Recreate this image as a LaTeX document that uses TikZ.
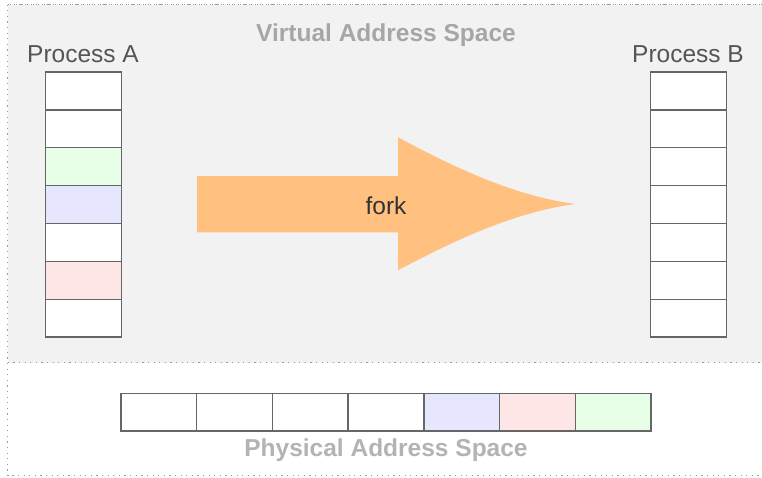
\documentclass[tikz,border=0pt]{standalone}
\usepackage{fontspec}
\setmainfont{Liberation Sans}
\begin{document}
\begin{tikzpicture}[x=1pt,y=-1pt]
\definecolor{panelgray}{HTML}{F2F2F2}
\definecolor{dotline}{HTML}{999999}
\definecolor{cellline}{HTML}{666666}
\definecolor{pagegreen}{HTML}{E6FFE6}
\definecolor{pageblue}{HTML}{E6E6FF}
\definecolor{pagered}{HTML}{FFE6E6}
\definecolor{forkfill}{HTML}{FFC080}
\definecolor{proclabel}{HTML}{555555}
\definecolor{vtitle}{HTML}{A6A6A6}
\definecolor{ptitle}{HTML}{B3B3B3}
\tikzset{
  frame/.style={draw=dotline, line width=1pt, dash pattern=on 1.2pt off 4.4pt},
  cell/.style={draw=cellline, line width=1.3pt, fill=white, minimum width=75.7pt,
    minimum height=37.86pt, inner sep=0pt, outer sep=0pt},
  pcell/.style={cell, minimum width=75.71pt, minimum height=37.8pt},
  proc/.style={font=\fontsize{24.5}{28}\selectfont, text=proclabel, anchor=base, inner sep=0pt},
  title/.style={font=\fontsize{24.5}{28}\selectfont\bfseries, anchor=base, inner sep=0pt},
}
\useasboundingbox (0,0) rectangle (762,477);
\clip (0,0) rectangle (762,477);

% outer frame and the virtual address space panel
\draw[frame] (7.5,4.5) rectangle (790,475.5);
\draw[frame, fill=panelgray] (7.5,4.5) rectangle (790,362.5);

\node[title, text=vtitle] (vtitle) at (386,41) {Virtual Address Space};
\node[title, text=ptitle] (ptitle) at (386,456.7) {Physical Address Space};

% process A page table
\node[proc] (labA) at (83,62) {Process A};
\foreach \i/\c in {0/white,1/white,2/pagegreen,3/pageblue,4/white,5/pagered,6/white}{
  \node[cell, fill=\c] (a\i) at (83.5,{72+18.93+37.86*\i}) {};
}

% process B page table
\node[proc] (labB) at (688,62) {Process B};
\foreach \i in {0,...,6}{
  \node[cell] (b\i) at (688.5,{72+18.93+37.86*\i}) {};
}

% physical frames
\foreach \i/\c in {0/white,1/white,2/white,3/white,4/pageblue,5/pagered,6/pagegreen}{
  \node[pcell, fill=\c] (p\i) at ({121+37.86+75.71*\i},412.2) {};
}

% fork arrow
\fill[forkfill] (197,176) -- (398,176) -- (398,137.3)
  .. controls (455,168) and (515,196) .. (575,204)
  .. controls (515,212) and (455,240) .. (398,270.3)
  -- (398,232.3) -- (197,232.3) -- cycle;
\node[font=\fontsize{24.5}{28}\selectfont, text=black!80, anchor=base, inner sep=0pt] (fork) at (386,214) {fork};
\end{tikzpicture}
\end{document}
